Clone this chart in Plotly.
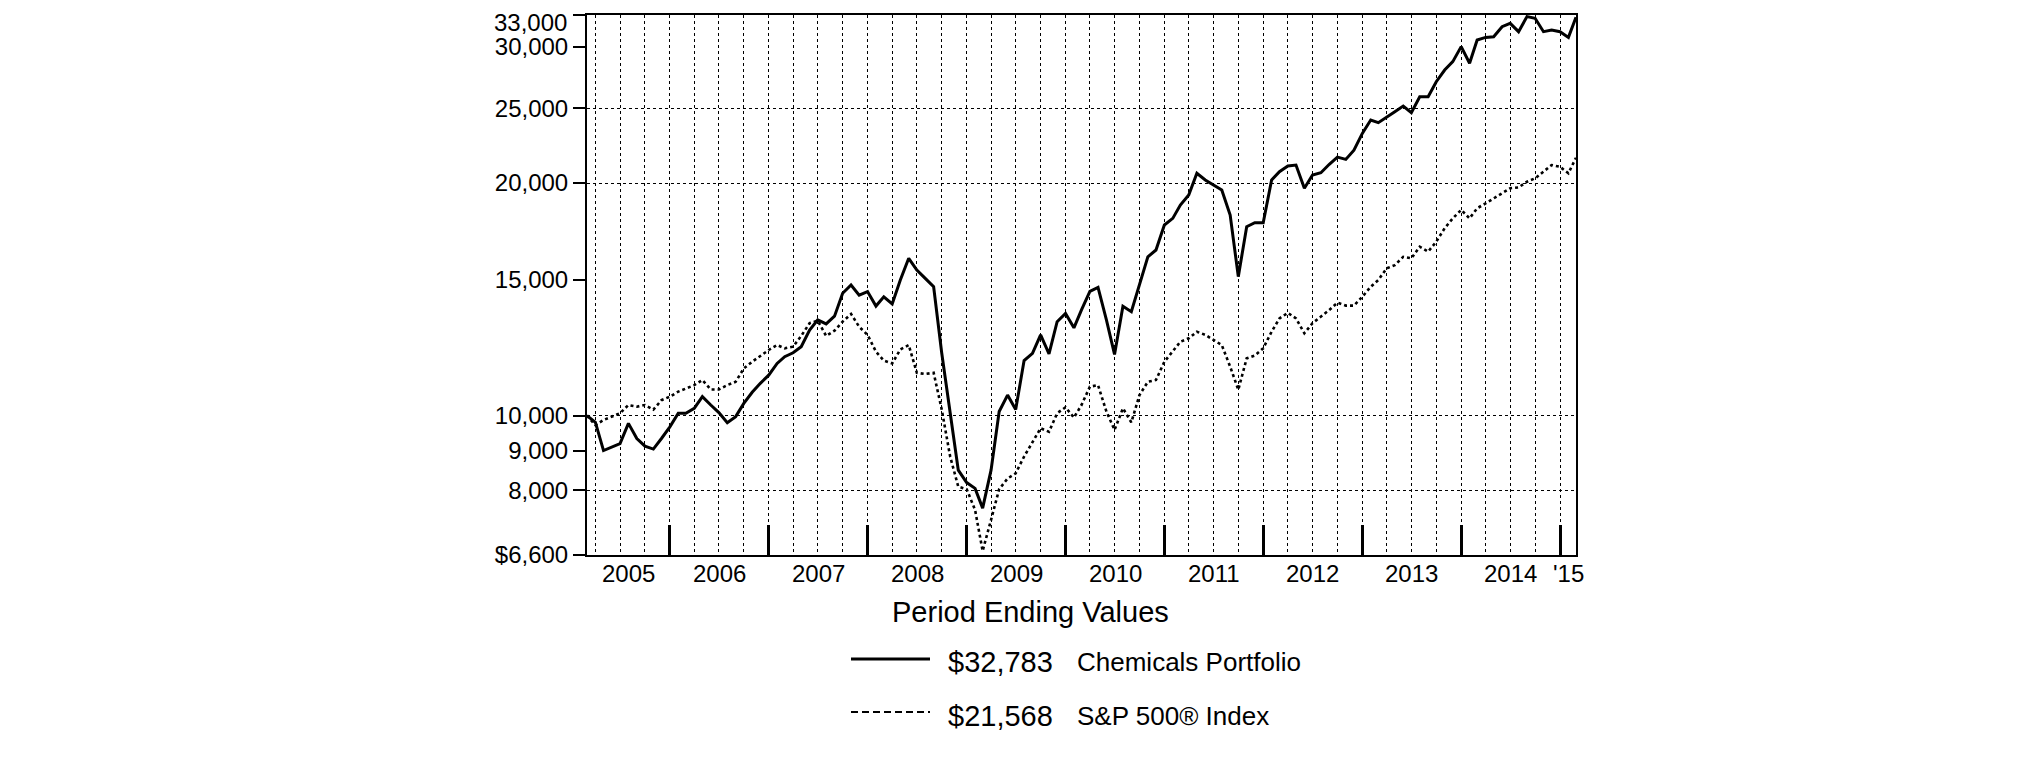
import math
import pandas as pd
import plotly.graph_objects as go

# ---------------- data ----------------
months = [d.strftime("%Y-%m-%d") for d in pd.date_range("2005-02-28", periods=121, freq="ME")]

chemicals = [
    10000, 9800, 9010, 9110, 9200, 9770, 9340, 9130, 9050, 9340,
    9670, 10070, 10070, 10220, 10580, 10320, 10090, 9790, 9970, 10370,
    10720, 11010, 11280, 11680, 11920, 12060, 12280, 12900, 13300, 13140,
    13450, 14400, 14760, 14320, 14470, 13860, 14250, 13950, 14980, 15980,
    15430, 15050, 14680, 12040, 10070, 8500, 8190, 8050, 7590, 8500,
    10120, 10630, 10180, 11780, 12040, 12720, 12020, 13230, 13560, 12990,
    13700, 14480, 14650, 13300, 12000, 13850, 13630, 14760, 16050, 16380,
    17650, 18000, 18730, 19300, 20590, 20180, 19880, 19590, 18180, 15130,
    17560, 17770, 17770, 20180, 20690, 21040, 21100, 19690, 20480, 20620,
    21150, 21610, 21460, 22060, 23190, 24130, 23940, 24370, 24740, 25160,
    24660, 25860, 25860, 27050, 28010, 28720, 30030, 28580, 30630, 30870,
    30930, 31870, 32190, 31400, 32840, 32680, 31400, 31560, 31400, 30870,
    32783,
]

sp500 = [
    10000, 9720, 9870, 9970, 10070, 10320, 10270, 10320, 10180, 10470,
    10580, 10740, 10840, 10950, 11120, 10810, 10810, 10950, 11060, 11510,
    11740, 11940, 12160, 12340, 12220, 12280, 12680, 13170, 13270, 12680,
    12880, 13230, 13540, 13030, 12720, 12100, 11780, 11680, 12180, 12340,
    11360, 11320, 11360, 10180, 8850, 8090, 8030, 7550, 6680, 7330,
    8030, 8290, 8420, 8850, 9250, 9630, 9530, 10070, 10250, 9940,
    10320, 10900, 10950, 10120, 9580, 10220, 9800, 10630, 11060, 11120,
    11740, 12100, 12460, 12590, 12840, 12720, 12530, 12340, 11570, 10800,
    11860, 11960, 12220, 12840, 13360, 13580, 13360, 12780, 13170, 13430,
    13700, 14000, 13880, 13880, 14250, 14680, 14980, 15510, 15660, 16050,
    15980, 16540, 16300, 16790, 17480, 18000, 18460, 18000, 18550, 18820,
    19110, 19430, 19690, 19740, 20080, 20280, 20690, 21100, 20990, 20590,
    21568,
]

y_tick_vals = [6600, 8000, 9000, 10000, 15000, 20000, 25000, 30000, 33000]
y_tick_text = ["$6,600", "8,000", "9,000", "10,000", "15,000", "20,000", "25,000", "30,000", "33,000"]
y_grid_vals = [8000, 10000, 20000, 25000]

year_labels = ["2005", "2006", "2007", "2008", "2009", "2010", "2011", "2012", "2013", "2014", "'15"]
series_names = ["Chemicals Portfolio", "S&P 500\u00ae Index"]
legend_title = "Period Ending Values"

# ---------------- layout geometry (page pixels) ----------------
PAGE_W, PAGE_H = 2026, 763
BODY = 8                       # default body margin of the html page
W, H = PAGE_W - 2 * BODY, PAGE_H - 2 * BODY
L, R, T, B = 587, 1576, 15, 555  # plot area in page pixels
FONT = "Arial, Liberation Sans, sans-serif"
TICK_SIZE = 24
EPS = 1e-6

x_start, x_end = months[0], months[-1]
ts, te = pd.Timestamp(x_start), pd.Timestamp(x_end)
year_bounds = [f"{y}-12-31" for y in range(ts.year, te.year)]
quarter_vals = [d.strftime("%Y-%m-%d") for d in pd.date_range(x_start, x_end, freq="QE") if d > ts]
year_mids = []
for k, lab in enumerate(year_labels):
    yr = ts.year + k
    a = max(pd.Timestamp(f"{yr}-01-01"), ts)
    b = min(pd.Timestamp(f"{yr}-12-31"), te)
    year_mids.append((a + (b - a) / 2).strftime("%Y-%m-%d %H:%M"))

# the top label sits at the very edge of the page, so it is drawn as an annotation
axis_tick_text = y_tick_text[:-1] + [""]

fig = go.Figure()
fig.add_trace(go.Scatter(x=months, y=chemicals, mode="lines", name=series_names[0],
                         line=dict(color="black", width=3), showlegend=False))
fig.add_trace(go.Scatter(x=months, y=sp500, mode="lines", name=series_names[1],
                         line=dict(color="black", width=2.6, dash="3px,3px"), showlegend=False))

fig.update_layout(
    width=W, height=H, autosize=False,
    margin=dict(l=L - BODY, r=PAGE_W - BODY - R, t=T - BODY, b=PAGE_H - BODY - B, pad=0,
                autoexpand=False),
    paper_bgcolor="white", plot_bgcolor="white",
    font=dict(family=FONT, color="black"),
    xaxis=dict(
        type="date", range=[x_start, x_end], automargin=False,
        tickmode="array", tickvals=year_bounds, ticks="inside", ticklen=30, tickwidth=3,
        tickcolor="black", showticklabels=False,
        showgrid=True, gridcolor="black", griddash="dot", gridwidth=1,
        minor=dict(tickmode="array", tickvals=quarter_vals, showgrid=True, gridcolor="black",
                   griddash="dot", gridwidth=1, ticks=""),
        showline=True, linecolor="black", linewidth=2, mirror=True, zeroline=False,
    ),
    yaxis=dict(
        type="log", range=[math.log10(y_tick_vals[0]) - EPS, math.log10(y_tick_vals[-1]) + EPS],
        automargin=False, ticklabeloverflow="allow",
        tickmode="array", tickvals=y_tick_vals, ticktext=axis_tick_text,
        ticks="outside", ticklen=12, tickwidth=2, tickcolor="black",
        tickfont=dict(size=TICK_SIZE, family=FONT, color="black"),
        showgrid=False,
        minor=dict(tickmode="array", tickvals=y_grid_vals, showgrid=True, gridcolor="black",
                   griddash="dot", gridwidth=1, ticks=""),
        showline=True, linecolor="black", linewidth=2, mirror=True, zeroline=False,
    ),
)

def px(xp):
    return (xp - L) / (R - L)

def py(yp):
    return (B - yp) / (B - T)

# top tick label, kept just inside the top edge of the page
fig.add_annotation(x=0, y=py(BODY), xref="paper", yref="paper", text=y_tick_text[-1],
                   showarrow=False, xanchor="right", yanchor="top", xshift=-19,
                   borderpad=0, font=dict(size=TICK_SIZE, family=FONT, color="black"))

# year labels under the axis, centred in each year
for xm, lab in zip(year_mids, year_labels):
    fig.add_annotation(x=xm, y=py(573), xref="x", yref="paper", text=lab, showarrow=False,
                       xanchor="center", yanchor="middle",
                       font=dict(size=24, family=FONT, color="black"))

# ---------------- custom legend below the plot ----------------
fig.add_annotation(x=px(1030), y=py(612), xref="paper", yref="paper", text=legend_title,
                   showarrow=False, xanchor="center", yanchor="middle",
                   font=dict(size=29, family=FONT, color="black"))

rows = [
    (chemicals, series_names[0], dict(color="black", width=3), 659, 662),
    (sp500, series_names[1], dict(color="black", width=2, dash="7px,4px"), 712, 716),
]
for values, name, lstyle, ly, ty in rows:
    fig.add_shape(type="line", xref="paper", yref="paper", x0=px(851), x1=px(930),
                  y0=py(ly), y1=py(ly), line=lstyle)
    fig.add_annotation(x=px(946), y=py(ty), xref="paper", yref="paper",
                       text=f"${values[-1]:,}", showarrow=False, xanchor="left", yanchor="middle",
                       font=dict(size=29, family=FONT, color="black"))
    fig.add_annotation(x=px(1075), y=py(ty), xref="paper", yref="paper",
                       text=name, showarrow=False, xanchor="left", yanchor="middle",
                       font=dict(size=26, family=FONT, color="black"))

fig.write_html("out.html")
